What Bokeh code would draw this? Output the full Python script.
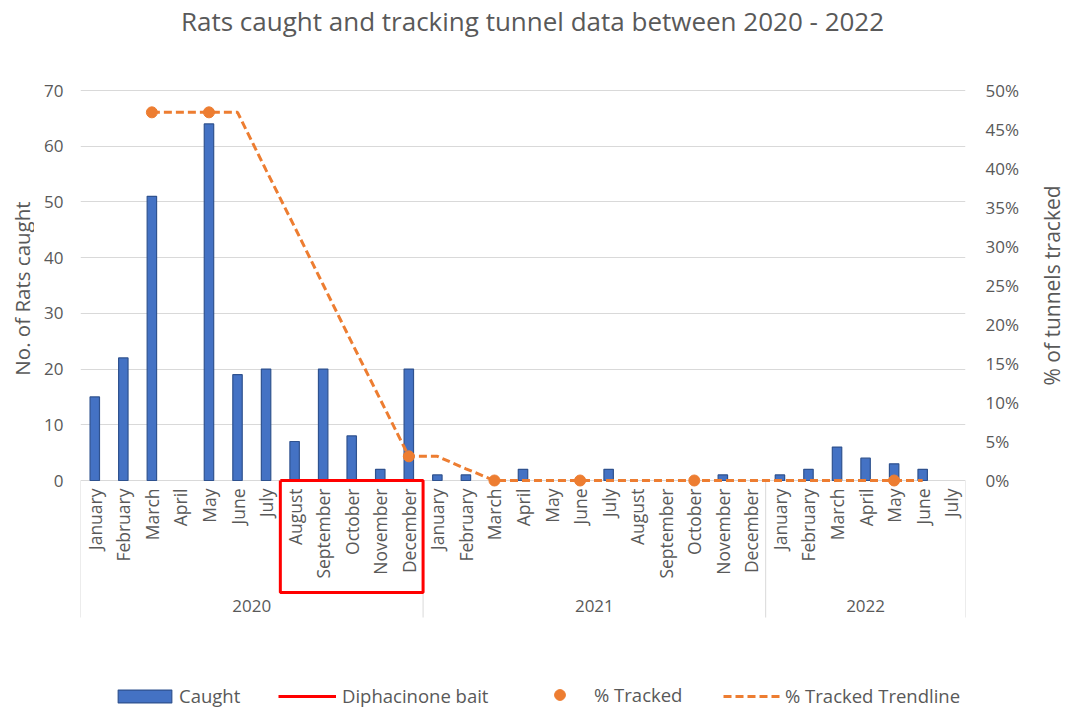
from math import pi
from bokeh.plotting import figure
from bokeh.layouts import row
from bokeh.models import (Range1d, LinearAxis, FixedTicker, NumeralTickFormatter,
                          Legend, LegendItem, ColumnDataSource)
from bokeh.core.properties import value
from bokeh.embed import file_html
from bokeh.resources import INLINE

# ---------------- data ----------------
title_text = "Rats caught and tracking tunnel data between 2020 - 2022"
left_title = "No. of Rats caught"
right_title = "% of tunnels tracked"

years = ["2020", "2021", "2022"]
months_2020 = ["January", "February", "March", "April", "May", "June", "July",
               "August", "September", "October", "November", "December"]
months_2021 = ["January", "February", "March", "April", "May", "June", "July",
               "August", "September", "October", "November", "December"]
months_2022 = ["January", "February", "March", "April", "May", "June", "July"]

caught_2020 = [15, 22, 51, 0, 64, 19, 20, 7, 20, 8, 2, 20]
caught_2021 = [1, 1, 0, 2, 0, 0, 2, 0, 0, 0, 1, 0]
caught_2022 = [1, 2, 6, 4, 3, 2, 0]

tracked_points = [("2020", "March"), ("2020", "May"), ("2020", "December"),
                  ("2021", "March"), ("2021", "June"), ("2021", "October"),
                  ("2022", "May")]
tracked_values = [0.472, 0.472, 0.031, 0.0, 0.0, 0.0, 0.0]

# trendline read at each month (None = no line)
trend_2020 = [None, None, 0.472, 0.472, 0.472, 0.472, 0.398, 0.325, 0.251, 0.177, 0.104, 0.031]
trend_2021 = [0.031, 0.015, 0.0, 0.0, 0.0, 0.0, 0.0, 0.0, 0.0, 0.0, 0.0, 0.0]
trend_2022 = [0.0, 0.0, 0.0, 0.0, 0.0, 0.0, None]

bait_start = ("2020", "August")
bait_end = ("2020", "December")

left_ticks = [0, 10, 20, 30, 40, 50, 60, 70]
right_ticks = [0.0, 0.05, 0.10, 0.15, 0.20, 0.25, 0.30, 0.35, 0.40, 0.45, 0.50]

# ---------------- layout constants (pixels) ----------------
W, H = 1067, 708
LEFT_W, RIGHT_W = 34, 34           # narrow side strips holding the axis titles
FRAME_L, FRAME_R, FRAME_T = 80, 965, 90
ZERO_Y = 480                       # pixel row of value 0
PX_LEFT = (ZERO_Y - FRAME_T) / 70  # px per caught unit
PX_RIGHT = (ZERO_Y - FRAME_T) / 0.5
SEP_DEPTH = 137                    # separator length below axis
BOX_DEPTH = 112                    # bait box depth below axis
TITLE_X, TITLE_Y = 532, 20
LT_X, LT_Y = 21, 288
RT_X, RT_Y = 1051, 285

# ---------------- derived ----------------
groups = [("2020", months_2020), ("2021", months_2021), ("2022", months_2022)]
cats = [(y, m) for y, ms in groups for m in ms]
idx = {c: i for i, c in enumerate(cats)}
n = len(cats)
caught = caught_2020 + caught_2021 + caught_2022
trend = trend_2020 + trend_2021 + trend_2022
trend_x = [i for i, v in enumerate(trend) if v is not None]
trend_y = [v for v in trend if v is not None]
PX_X = (FRAME_R - FRAME_L) / n

group_centers, group_edges = [], [-0.5]
start = 0
for y, ms in groups:
    group_centers.append(start + (len(ms) - 1) / 2)
    start += len(ms)
    group_edges.append(start - 0.5)

TXT = "#595959"
FONT = "Open Sans"
GRID = "#D9D9D9"
BLUE = "#4472C4"
BLUE_DARK = "#2F528F"
ORANGE = "#ED7D31"

main_w = W - LEFT_W - RIGHT_W
p = figure(width=main_w, height=H, output_backend="svg", toolbar_location=None,
           x_range=Range1d(-0.5, n - 0.5),
           y_range=Range1d(-(H - ZERO_Y) / PX_LEFT, ZERO_Y / PX_LEFT),
           x_axis_location=None, y_axis_location="left", title_location=None,
           min_border_left=FRAME_L - LEFT_W, min_border_right=main_w - (FRAME_R - LEFT_W),
           min_border_top=0, min_border_bottom=0)
p.outline_line_color = None
p.background_fill_color = "white"
p.border_fill_color = "white"
p.xgrid.grid_line_color = None

# chart title
p.text(x=[-0.5 + (TITLE_X - FRAME_L) / PX_X], y=[(ZERO_Y - TITLE_Y) / PX_LEFT],
       text=[title_text], text_align="center", text_baseline="middle",
       text_font=value(FONT), text_font_size="26px", text_color=TXT)

# left axis
la = p.yaxis[0]
la.ticker = FixedTicker(ticks=left_ticks, minor_ticks=[])
la.axis_line_color = None
la.major_tick_line_color = None
la.minor_tick_line_color = None
la.major_tick_out = 0
la.minor_tick_out = 0
la.major_label_text_font = FONT
la.major_label_text_font_size = "17px"
la.major_label_text_color = TXT
la.major_label_standoff = 17
p.ygrid.grid_line_color = GRID
p.ygrid.ticker = FixedTicker(ticks=left_ticks, minor_ticks=[])

# right axis
p.extra_y_ranges = {"pct": Range1d(-(H - ZERO_Y) / PX_RIGHT, ZERO_Y / PX_RIGHT)}
ra = LinearAxis(y_range_name="pct", ticker=FixedTicker(ticks=right_ticks, minor_ticks=[]),
                formatter=NumeralTickFormatter(format="0%"))
ra.axis_line_color = None
ra.major_tick_line_color = None
ra.minor_tick_line_color = None
ra.major_tick_out = 0
ra.minor_tick_out = 0
ra.major_label_text_font = FONT
ra.major_label_text_font_size = "17px"
ra.major_label_text_color = TXT
ra.major_label_standoff = 20
p.add_layout(ra, "right")

# category labels (months and years) below the zero line
msrc = ColumnDataSource(dict(x=list(range(n)), y=[0] * n, t=[m for y, m in cats]))
p.text(x="x", y="y", text="t", source=msrc, angle=pi / 2, y_offset=8,
       text_align="right", text_baseline="middle", text_font=value(FONT),
       text_font_size="17.5px", text_color=TXT)
ysrc = ColumnDataSource(dict(x=group_centers, y=[0] * len(groups), t=[g for g, ms in groups]))
p.text(x="x", y="y", text="t", source=ysrc, y_offset=125, text_align="center",
       text_baseline="middle", text_font=value(FONT), text_font_size="17px",
       text_color=TXT)

# group separators
p.segment(x0=group_edges, y0=[0] * len(group_edges), x1=group_edges,
          y1=[-SEP_DEPTH / PX_LEFT] * len(group_edges), line_color=GRID, line_width=1)

# bars (months with no catch draw nothing)
bx = [i for i, v in enumerate(caught) if v > 0]
src = ColumnDataSource(dict(x=bx, caught=[caught[i] for i in bx]))
bars = p.vbar(x="x", top="caught", width=0.33, source=src, fill_color=BLUE,
              line_color=BLUE_DARK, line_width=1.2)

# trendline
tl = p.line(x=trend_x, y=trend_y, y_range_name="pct", line_color=ORANGE,
            line_width=3, line_dash="8 4")

# tracked points
tsrc = ColumnDataSource(dict(x=[idx[c] for c in tracked_points], y=tracked_values))
pts = p.scatter(x="x", y="y", source=tsrc, y_range_name="pct", size=11,
                fill_color=ORANGE, line_color=ORANGE)

# bait box
bl, br = idx[bait_start] - 0.5, idx[bait_end] + 0.5
bb = -BOX_DEPTH / PX_LEFT
bait = p.line(x=[bl, bl, br, br, bl], y=[0, bb, bb, 0, 0], line_color="#FF0000",
              line_width=3)

# legend (one small legend per entry so each key can be sized like the original)
def add_legend(label, rend, x, gw, gh, standoff):
    lg = Legend(items=[LegendItem(label=label, renderers=[rend])],
                location=(x, 0), orientation="horizontal")
    lg.border_line_color = None
    lg.background_fill_alpha = 0
    lg.label_text_font = FONT
    lg.label_text_font_size = "18.5px"
    lg.label_text_color = TXT
    lg.glyph_width = gw
    lg.glyph_height = gh
    lg.label_standoff = standoff
    lg.margin = 0
    lg.padding = 0
    p.add_layout(lg)

add_legend("Caught", bars, 31, 67, 16, 1)
add_legend("Diphacinone bait", bait, 198, 58, 16, 6)
add_legend("% Tracked", pts, 466, 27, 27, 21)
add_legend("% Tracked Trendline", tl, 643, 57, 16, 5)

# side strips with the axis titles (reading bottom to top)
def side_strip(w, text, cx, cy, size):
    s = figure(width=w, height=H, output_backend="svg", toolbar_location=None,
               x_range=Range1d(0, w), y_range=Range1d(0, H), x_axis_location=None,
               y_axis_location=None, title_location=None, min_border=0)
    s.outline_line_color = None
    s.xgrid.visible = False
    s.ygrid.visible = False
    s.text(x=[cx], y=[H - cy], text=[text], angle=pi / 2, text_align="center",
           text_baseline="middle", text_font=value(FONT), text_font_size=size,
           text_color=TXT)
    return s

lfig = side_strip(LEFT_W, left_title, LT_X, LT_Y, "20.5px")
rfig = side_strip(RIGHT_W, right_title, RT_X - (W - RIGHT_W), RT_Y, "21px")

layout = row(lfig, p, rfig, spacing=0)
open("out.html", "w").write(file_html(layout, INLINE))
